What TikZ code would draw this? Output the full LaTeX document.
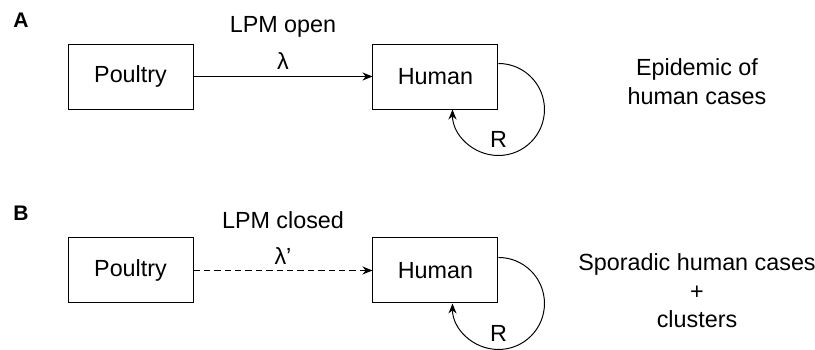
\documentclass[tikz,border=0pt]{standalone}
\usepackage{fontspec}
\setmainfont{Liberation Sans}
\usepackage{tikz}
\usetikzlibrary{arrows.meta,positioning,calc}

\newcommand{\mainsz}{\fontsize{16.6}{20.3}\selectfont}

\begin{document}
\begin{tikzpicture}[
    node distance=4.475cm,
    box/.style={rectangle, draw, line width=0.7pt, minimum width=3.125cm, minimum height=1.625cm, inner sep=0pt, font=\mainsz},
    lbl/.style={inner sep=0pt, font=\mainsz},
    panel/.style={inner sep=0pt, anchor=base west, font=\fontsize{15}{17}\selectfont\bfseries},
    arrow/.style={-{Stealth[length=2.5mm, width=2mm, inset=0.8mm]}, line width=0.7pt},
    loop/.style={arrow}
]
\useasboundingbox (0,0) rectangle (20.375,-8.75);

% Panel A
\node[panel] (labA) at (0.325,-0.7) {A};
\node[box] (poultryA) at (3.2625,-1.9125) {Poultry};
\node[box, right=of poultryA] (humanA) {Human};
\draw[arrow] (poultryA) -- node[lbl, midway, anchor=base, yshift=0.17cm] (lamA) {λ} (humanA);
\node[lbl, anchor=base] (lpmA) at ([yshift=0.93cm]lamA.base) {LPM open};
\draw[loop] ([yshift=1.15cm]humanA.south east) arc[start angle=90, end angle=-180, radius=1.15cm];
\node[lbl] (rA) at ([yshift=-0.75cm]humanA.south east) {R};
\node[lbl, align=center] (outA) at (17.425,-2.04) {Epidemic of\\human cases};

% Panel B
\node[panel] (labB) at (0.325,-5.5) {B};
\node[box, below=3.2cm of poultryA] (poultryB) {Poultry};
\node[box, right=of poultryB] (humanB) {Human};
\draw[arrow, dash pattern=on 1.6mm off 1mm] (poultryB) -- node[lbl, midway, anchor=base, yshift=0.16cm] (lamB) {λ’} (humanB);
\node[lbl, anchor=base] (lpmB) at ([yshift=0.9cm]lamB.base) {LPM closed};
\draw[loop] ([yshift=1.15cm]humanB.south east) arc[start angle=90, end angle=-180, radius=1.15cm];
\node[lbl] (rB) at ([yshift=-0.75cm]humanB.south east) {R};
\node[lbl, align=center] (outB) at (17.425,-7.275) {Sporadic human cases\\+\\clusters};

\end{tikzpicture}
\end{document}
